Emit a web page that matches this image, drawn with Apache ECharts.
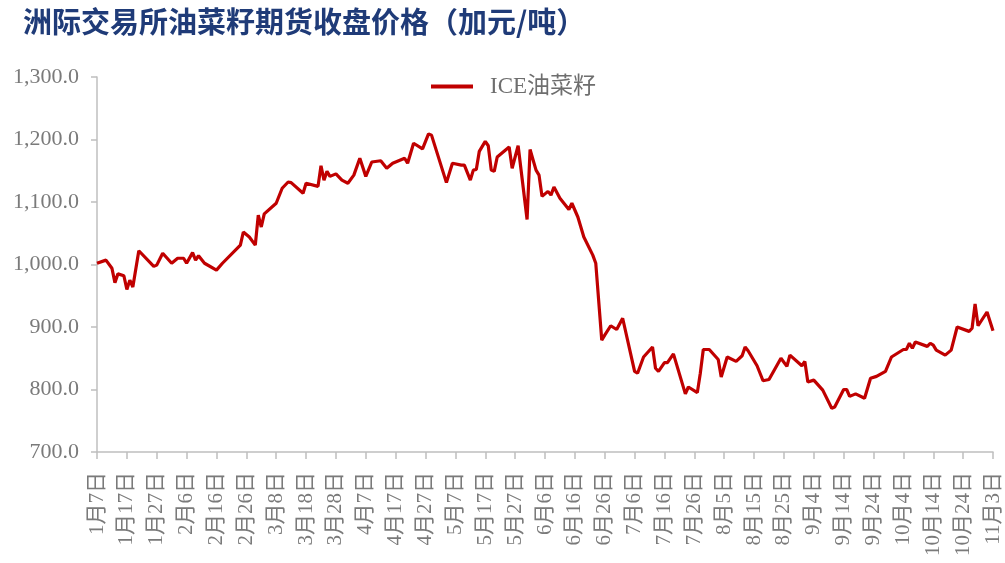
<!DOCTYPE html>
<html>
<head>
<meta charset="utf-8">
<script src="https://cdn.jsdelivr.net/npm/echarts@6/dist/echarts.min.js"></script>
<style>html,body{margin:0;padding:0;background:#fff;}#c{width:1005px;height:563px;}</style>
</head>
<body>
<div id="c"></div>
<script>
const YEAR = 2022;
const START = '01-07';
const TITLE = '洲际交易所油菜籽期货收盘价格（加元/吨）';
const SERIES_NAME = 'ICE油菜籽';
const dates = ['01-07','01-10','01-12','01-13','01-14','01-16','01-17','01-18','01-19','01-21','01-26','01-27','01-29',
'02-01','02-03','02-05','02-06','02-08','02-09','02-10','02-12','02-16','02-18','02-24','02-25','02-27',
'03-01','03-02','03-03','03-04','03-08','03-10','03-12','03-13','03-17','03-18','03-22','03-23','03-24','03-25','03-26','03-28','03-30',
'04-01','04-03','04-05','04-07','04-09','04-12','04-14','04-16','04-20','04-21','04-23','04-26','04-28','04-29',
'05-04','05-06','05-09','05-10','05-12','05-13','05-14','05-15','05-17','05-18','05-19','05-20','05-21','05-25','05-26','05-28','05-31',
'06-01','06-03','06-04','06-05','06-07','06-08','06-09','06-11','06-14','06-15','06-17','06-19','06-22','06-23','06-25','06-26','06-28','06-30',
'07-02','07-06','07-07','07-09','07-12','07-13','07-14','07-16','07-17','07-19','07-23','07-24','07-27','07-28','07-29','07-31',
'08-03','08-04','08-06','08-09','08-11','08-12','08-13','08-16','08-18','08-20','08-24','08-26','08-27','08-31',
'09-01','09-02','09-04','09-07','09-10','09-11','09-14','09-15','09-16','09-18','09-21','09-23','09-25','09-28','09-30',
'10-04','10-05','10-06','10-07','10-08','10-12','10-13','10-14','10-15','10-18','10-20','10-22','10-26','10-27','10-28','10-29',
'11-01','11-03'];
const prices = [1002,1007,994,971,985,982,960,975,964,1022,997,999,1018,
1002,1010,1010,1002,1019,1007,1014,1002,991,1002,1031,1052,1044,
1031,1079,1060,1081,1098,1122,1132,1131,1114,1130,1125,1158,1135,1149,1141,1145,1135,
1130,1143,1170,1141,1164,1166,1154,1162,1170,1162,1194,1185,1209,1207,
1131,1162,1159,1159,1135,1151,1152,1181,1197,1190,1151,1149,1172,1188,1154,1190,1072,
1184,1151,1143,1109,1117,1111,1124,1106,1088,1098,1076,1044,1015,1002,879,887,902,896,
914,829,826,852,868,834,829,843,843,857,793,804,795,826,864,864,
848,820,852,845,854,868,862,838,814,816,850,837,855,838,
845,812,815,799,770,772,800,800,789,793,786,818,821,829,852,
864,864,874,866,876,869,874,871,863,855,863,900,893,898,937,902,
924,894];
const X_SPAN_DAYS = 300, X_STEP_DAYS = 10;
const Y_MIN = 700, Y_MAX = 1300, Y_STEP = 100;

const DAY = 86400000;
function toUTC(md){const p=md.split('-');return Date.UTC(YEAR,+p[0]-1,+p[1]);}
const base = toUTC(START);
const data = dates.map((d,i)=>[(toUTC(d)-base)/DAY, prices[i]]);
function fmtDate(v){const d=new Date(base+Math.round(v)*DAY);return (d.getUTCMonth()+1)+'月'+d.getUTCDate()+'日';}
function fmtNum(v){const s=Math.round(v).toString().replace(/\B(?=(\d{3})+(?!\d))/g,',');return s+'.0';}

const chart = echarts.init(document.getElementById('c'), null, {renderer:'canvas'});
const axisFont = "'Liberation Serif','Noto Sans CJK SC',serif";
chart.setOption({
  animation:false,
  backgroundColor:'#fff',
  title:{text:TITLE,left:18,top:2,textStyle:{color:'#1f3b78',fontSize:29,fontWeight:'bold',fontFamily:"'Noto Sans CJK SC',sans-serif"}},
  legend:{data:[SERIES_NAME],left:426,top:70,icon:'rect',itemWidth:42,itemHeight:4,
    textStyle:{color:'#6e6e6e',fontSize:23,fontFamily:axisFont,padding:[0,0,0,12]}},
  grid:{left:97,right:12,top:77,bottom:111,containLabel:false},
  xAxis:{type:'value',min:0,max:X_SPAN_DAYS,interval:X_STEP_DAYS,
    axisLine:{show:true,lineStyle:{color:'#bfbfbf',width:1.5}},
    axisTick:{show:true,length:7,lineStyle:{color:'#bfbfbf',width:1.5}},
    splitLine:{show:false},
    axisLabel:{rotate:90,margin:20,color:'#7a7a7a',fontSize:21,fontFamily:axisFont,formatter:fmtDate,showMinLabel:true,showMaxLabel:true}},
  yAxis:{type:'value',min:Y_MIN,max:Y_MAX,interval:Y_STEP,
    axisLine:{show:true,lineStyle:{color:'#bfbfbf',width:1.5}},
    axisTick:{show:true,length:6,lineStyle:{color:'#bfbfbf',width:1.5}},
    splitLine:{show:false},
    axisLabel:{margin:18,color:'#7a7a7a',fontSize:22,fontFamily:axisFont,formatter:fmtNum}},
  series:[{name:SERIES_NAME,type:'line',data:data,showSymbol:false,symbol:'none',
    lineStyle:{color:'#c00000',width:3.2},itemStyle:{color:'#c00000'}}]
});
</script>
</body>
</html>
